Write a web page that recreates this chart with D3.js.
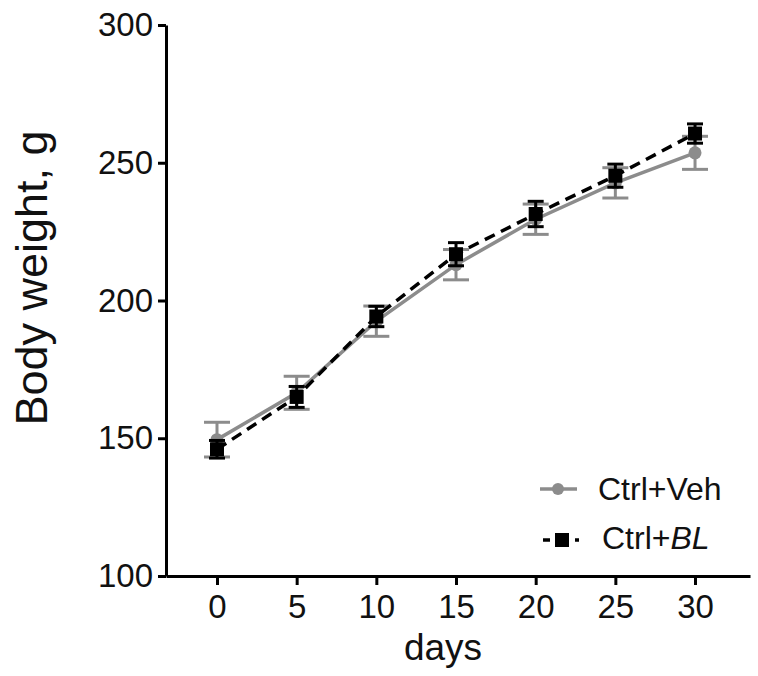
<!DOCTYPE html>
<html>
<head>
<meta charset="utf-8">
<script src="https://cdn.jsdelivr.net/npm/d3@7"></script>
<style>
  body { margin: 0; background: #fff; }
  text { font-family: "Liberation Sans", Arial, sans-serif; fill: #111; }
</style>
</head>
<body>
<div id="chart"></div>
<script>
// Data
var days = [0, 5, 10, 15, 20, 25, 30];
var vehMean = [149.5, 166.5, 192.5, 213, 229.5, 242.7, 253.6];
var vehErr = [6.3, 6, 5.5, 5.5, 5.5, 5.5, 6];
var blMean = [146, 165, 194.2, 216.8, 231.4, 245.3, 260.6];
var blErr = [3.2, 3.8, 3.7, 4.2, 4.6, 4.2, 3.5];
var xTicks = [0, 5, 10, 15, 20, 25, 30];
var yTicks = [100, 150, 200, 250, 300];

var svgWidth = 758;
var svgHeight = 676;
var grey = "#8c8c8c";

var svg = d3.select("#chart")
  .append("svg")
  .attr("width", svgWidth)
  .attr("height", svgHeight);

// scales - x axis runs a bit past both ends of the data
var xScale = d3.scaleLinear()
  .domain([-3.2, 33.45])
  .range([166, 750]);

var yScale = d3.scaleLinear()
  .domain([100, 300])
  .range([576, 25]);

// axes
var bottomAxis = d3.axisBottom(xScale)
  .tickValues(xTicks)
  .tickSize(9)
  .tickSizeOuter(0)
  .tickPadding(10);

var leftAxis = d3.axisLeft(yScale)
  .tickValues(yTicks)
  .tickSize(8)
  .tickSizeOuter(0)
  .tickPadding(5);

var xAxis = svg.append("g")
  .attr("transform", "translate(0,576)")
  .call(bottomAxis);

var yAxis = svg.append("g")
  .attr("transform", "translate(166,0)")
  .call(leftAxis);

[xAxis, yAxis].forEach(function(ax) {
  ax.selectAll("path, line")
    .attr("stroke", "#000")
    .attr("stroke-width", 3);
  ax.selectAll("text")
    .attr("font-size", 33)
    .attr("fill", "#111");
});

// axis titles
svg.append("text")
  .attr("x", 443)
  .attr("y", 660)
  .attr("text-anchor", "middle")
  .attr("font-size", 37)
  .text("days");

svg.append("text")
  .attr("transform", "translate(47,278) rotate(-90)")
  .attr("text-anchor", "middle")
  .attr("font-size", 45)
  .text("Body weight, g");

// build rows for each series
var veh = days.map(function(d, i) { return {x: d, y: vehMean[i], e: vehErr[i]}; });
var bl = days.map(function(d, i) { return {x: d, y: blMean[i], e: blErr[i]}; });

var line = d3.line()
  .x(d => xScale(d.x))
  .y(d => yScale(d.y));

function drawErrors(data, color, capHalf) {
  var g = svg.append("g");
  g.selectAll("line.stem")
    .data(data)
    .enter()
    .append("line")
    .attr("x1", d => xScale(d.x))
    .attr("x2", d => xScale(d.x))
    .attr("y1", d => yScale(d.y + d.e))
    .attr("y2", d => yScale(d.y - d.e))
    .attr("stroke", color)
    .attr("stroke-width", 3);
  ["top", "bottom"].forEach(function(side) {
    g.selectAll("line." + side)
      .data(data)
      .enter()
      .append("line")
      .attr("x1", d => xScale(d.x) - capHalf)
      .attr("x2", d => xScale(d.x) + capHalf)
      .attr("y1", d => yScale(side === "top" ? d.y + d.e : d.y - d.e))
      .attr("y2", d => yScale(side === "top" ? d.y + d.e : d.y - d.e))
      .attr("stroke", color)
      .attr("stroke-width", 3);
  });
}

// Ctrl+Veh (grey, circles)
drawErrors(veh, grey, 13);
svg.append("path")
  .datum(veh)
  .attr("d", line)
  .attr("fill", "none")
  .attr("stroke", grey)
  .attr("stroke-width", 3.5);
svg.append("g")
  .selectAll("circle")
  .data(veh)
  .enter()
  .append("circle")
  .attr("cx", d => xScale(d.x))
  .attr("cy", d => yScale(d.y))
  .attr("r", 6.5)
  .attr("fill", grey);

// Ctrl+BL (black, dashed, squares)
drawErrors(bl, "#000", 8);
svg.append("path")
  .datum(bl)
  .attr("d", line)
  .attr("fill", "none")
  .attr("stroke", "#000")
  .attr("stroke-width", 3.5)
  .attr("stroke-dasharray", "11,7");
svg.append("g")
  .selectAll("rect")
  .data(bl)
  .enter()
  .append("rect")
  .attr("x", d => xScale(d.x) - 7)
  .attr("y", d => yScale(d.y) - 7)
  .attr("width", 14)
  .attr("height", 14)
  .attr("fill", "#000");

// legend
var legend = svg.append("g");
legend.append("line")
  .attr("x1", 540).attr("x2", 577)
  .attr("y1", 489).attr("y2", 489)
  .attr("stroke", grey)
  .attr("stroke-width", 3.5);
legend.append("circle")
  .attr("cx", 558).attr("cy", 489)
  .attr("r", 6)
  .attr("fill", grey);
legend.append("text")
  .attr("x", 598).attr("y", 500)
  .attr("font-size", 32)
  .text("Ctrl+Veh");

legend.append("line")
  .attr("x1", 543).attr("x2", 579)
  .attr("y1", 540).attr("y2", 540)
  .attr("stroke", "#000")
  .attr("stroke-width", 3.5)
  .attr("stroke-dasharray", "7,25,4,10");
legend.append("rect")
  .attr("x", 555).attr("y", 533)
  .attr("width", 14).attr("height", 14)
  .attr("fill", "#000");
var blText = legend.append("text")
  .attr("x", 602).attr("y", 549)
  .attr("font-size", 32);
blText.append("tspan").text("Ctrl+");
blText.append("tspan").attr("font-style", "italic").text("BL");
</script>
</body>
</html>
